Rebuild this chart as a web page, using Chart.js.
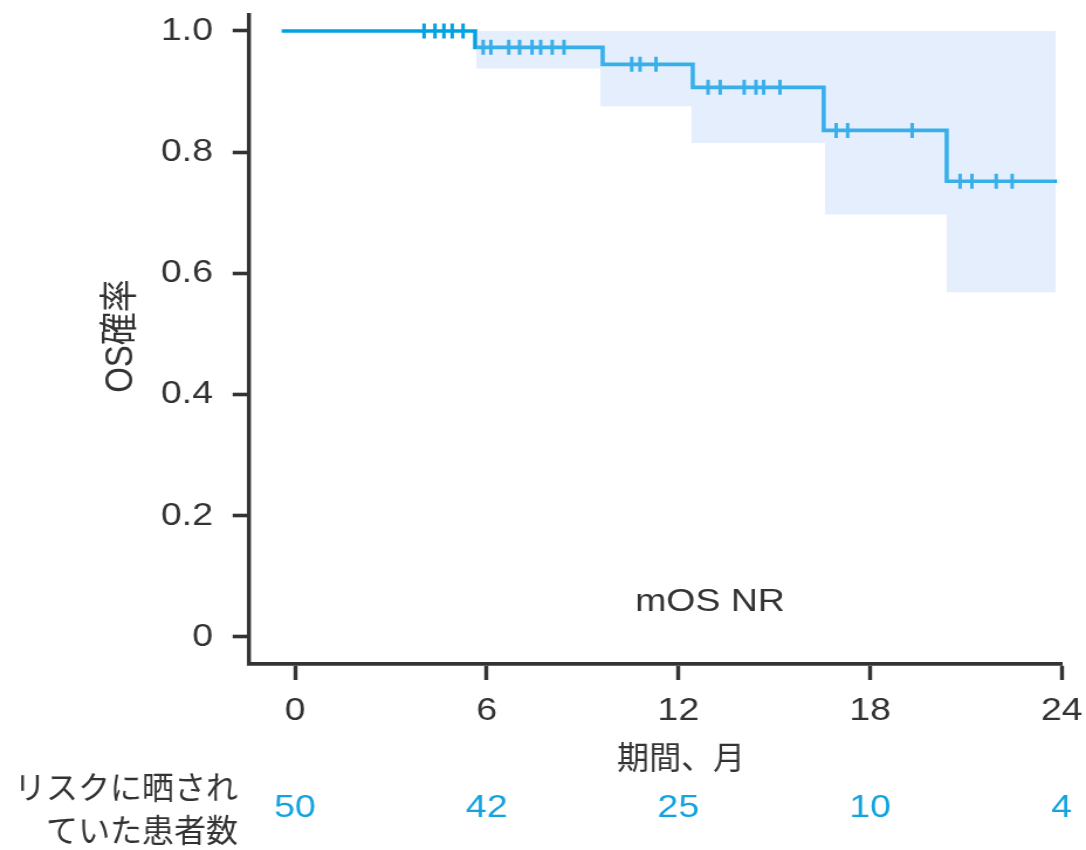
<!DOCTYPE html>
<html lang="ja">
<head>
<meta charset="utf-8">
<title>OS確率</title>
<script src="https://cdn.jsdelivr.net/npm/chart.js@4.4.1/dist/chart.umd.min.js"></script>
<style>
  html, body { margin: 0; padding: 0; background: #fff; overflow: hidden; }
  /* the chart is drawn narrow and widened, giving the wide Latin lettering */
  #wrap { width: 928px; height: 850px; transform: scaleX(1.17026); transform-origin: 0 0; }
  canvas { display: block; }
</style>
</head>
<body>
<div id="wrap"><canvas id="osChart" width="928" height="850"></canvas></div>
<script>
// KM curve: survival holds from each month until the next one
const stepMonths = [-0.42, 5.64, 9.63, 12.45, 16.55, 20.40, 23.85];
const stepSurvival = [1.0, 0.973, 0.945, 0.907, 0.836, 0.752, 0.752];

// 95% CI band
const ciMonths = [5.67, 9.56, 12.41, 16.59, 20.40, 23.81];
const ciUpper = [1.0, 1.0, 1.0, 1.0, 1.0, 1.0];
const ciLower = [0.938, 0.876, 0.815, 0.697, 0.569, 0.569];

// censored patients (tick marks on the curve)
const censorMonths = [
    4.04, 4.38, 4.66, 4.92, 5.26,
    5.89, 6.13, 6.69, 7.03, 7.42, 7.69, 8.05, 8.42,
    10.54, 10.80, 11.30,
    12.93, 13.31, 14.06, 14.43, 14.67, 15.18,
    16.94, 17.30, 19.32,
    20.82, 21.19, 21.95, 22.45
];

const xTicks = [0, 6, 12, 18, 24];
const yTicks = [0, 0.2, 0.4, 0.6, 0.8, 1.0];
const atRiskMonths = [0, 6, 12, 18, 24];
const atRiskCounts = [50, 42, 25, 10, 4];

const STRETCH = 1086 / 928;
const LATIN = '"Liberation Sans", Arial, sans-serif';
const CJK = '"Noto Sans CJK JP", sans-serif';
const TEXT = '#333333';
const BLUE = '#00a2e2';

function survivalAt(month) {
    let value = stepSurvival[0];
    stepMonths.forEach((m, i) => { if (m <= month) value = stepSurvival[i]; });
    return value;
}

const toPoints = (xs, ys) => xs.map((x, i) => ({ x, y: ys[i] }));

// no extra room for labels hanging past the axis ends
function dropLabelPadding(scale) {
    scale.paddingTop = 0;
    scale.paddingBottom = 0;
    scale.paddingLeft = 0;
    scale.paddingRight = 0;
}

// Japanese text is drawn unstretched so it keeps its normal proportions
function drawCjk(ctx, text, x, y, size, align) {
    ctx.save();
    ctx.translate(x, y);
    ctx.scale(1 / STRETCH, 1);
    ctx.font = `${size}px ${CJK}`;
    ctx.textAlign = align;
    ctx.textBaseline = 'middle';
    ctx.fillStyle = TEXT;
    ctx.fillText(text, 0, 0);
    ctx.restore();
}

const labelsPlugin = {
    id: 'osLabels',
    afterDraw(chart) {
        const { ctx, scales: { x } } = chart;
        ctx.save();

        // y axis title
        ctx.save();
        ctx.translate(104, 336);
        ctx.rotate(-Math.PI / 2);
        ctx.font = `33px ${LATIN}, ${CJK}`;
        ctx.fillStyle = TEXT;
        ctx.textAlign = 'center';
        ctx.textBaseline = 'middle';
        ctx.fillText('OS確率', 0, 0);
        ctx.restore();

        // x axis title
        drawCjk(ctx, '期間、月', 582, 757, 32, 'center');

        // median label
        ctx.font = `32px ${LATIN}`;
        ctx.fillStyle = TEXT;
        ctx.textAlign = 'center';
        ctx.textBaseline = 'middle';
        ctx.fillText('mOS NR', 606.7, 602.5);

        // number at risk table
        drawCjk(ctx, 'リスクに晒され', 203.4, 787, 32, 'right');
        drawCjk(ctx, 'ていた患者数', 203.4, 830, 32, 'right');
        ctx.font = `32px ${LATIN}`;
        ctx.fillStyle = '#13a3df';
        atRiskMonths.forEach((m, i) => {
            ctx.fillText(String(atRiskCounts[i]), x.getPixelForValue(m), 808);
        });

        ctx.restore();
    }
};

const ctx = document.getElementById('osChart').getContext('2d');
new Chart(ctx, {
    type: 'line',
    data: {
        datasets: [
            {
                label: 'CI上限',
                data: toPoints(ciMonths, ciUpper),
                stepped: true,
                borderColor: 'transparent',
                borderWidth: 0,
                pointRadius: 0,
                fill: false,
                order: 0
            },
            {
                label: 'CI下限',
                data: toPoints(ciMonths, ciLower),
                stepped: true,
                borderColor: 'transparent',
                borderWidth: 0,
                pointRadius: 0,
                backgroundColor: 'rgba(172, 203, 249, 0.33)',
                fill: '-1',
                order: 1
            },
            {
                label: 'OS',
                data: toPoints(stepMonths, stepSurvival),
                stepped: true,
                borderColor: BLUE,
                borderWidth: 3.6,
                pointRadius: 0,
                fill: false,
                order: 2
            },
            {
                label: '打ち切り',
                data: censorMonths.map((m) => ({ x: m, y: survivalAt(m) })),
                showLine: false,
                pointStyle: 'line',
                pointRotation: 90,
                pointRadius: 7.5,
                pointBorderWidth: 3,
                pointBorderColor: BLUE,
                order: 3
            }
        ]
    },
    options: {
        responsive: false,
        animation: false,
        devicePixelRatio: 1,
        layout: { autoPadding: false, padding: { left: 0, top: 15, right: 20.8, bottom: 0 } },
        plugins: { legend: { display: false }, tooltip: { enabled: false } },
        scales: {
            x: {
                type: 'linear',
                min: -1.44,
                max: 24,
                afterBuildTicks(scale) { scale.ticks = xTicks.map((value) => ({ value })); },
                afterFit(scale) {
                    scale.height = 186;
                    dropLabelPadding(scale);
                },
                grid: { drawOnChartArea: false, drawTicks: true, tickLength: 16, tickWidth: 3.4, tickColor: TEXT },
                border: { color: TEXT, width: 3.8 },
                ticks: {
                    padding: 12,
                    color: TEXT,
                    font: { family: LATIN, size: 32 },
                    maxRotation: 0,
                    autoSkip: false,
                    callback: (v) => String(v)
                }
            },
            y: {
                type: 'linear',
                min: -0.0446,
                max: 1.0264,
                afterBuildTicks(scale) { scale.ticks = yTicks.map((value) => ({ value })); },
                afterFit(scale) {
                    scale.width = 212.8;
                    dropLabelPadding(scale);
                },
                grid: { drawOnChartArea: false, drawTicks: true, tickLength: 14, tickWidth: 3.6, tickColor: TEXT },
                border: { color: TEXT, width: 3.4 },
                ticks: {
                    padding: 16.8,
                    color: TEXT,
                    font: { family: LATIN, size: 32 },
                    autoSkip: false,
                    callback: (v) => (v === 0 ? '0' : v.toFixed(1))
                }
            }
        }
    },
    plugins: [labelsPlugin]
});
</script>
</body>
</html>
